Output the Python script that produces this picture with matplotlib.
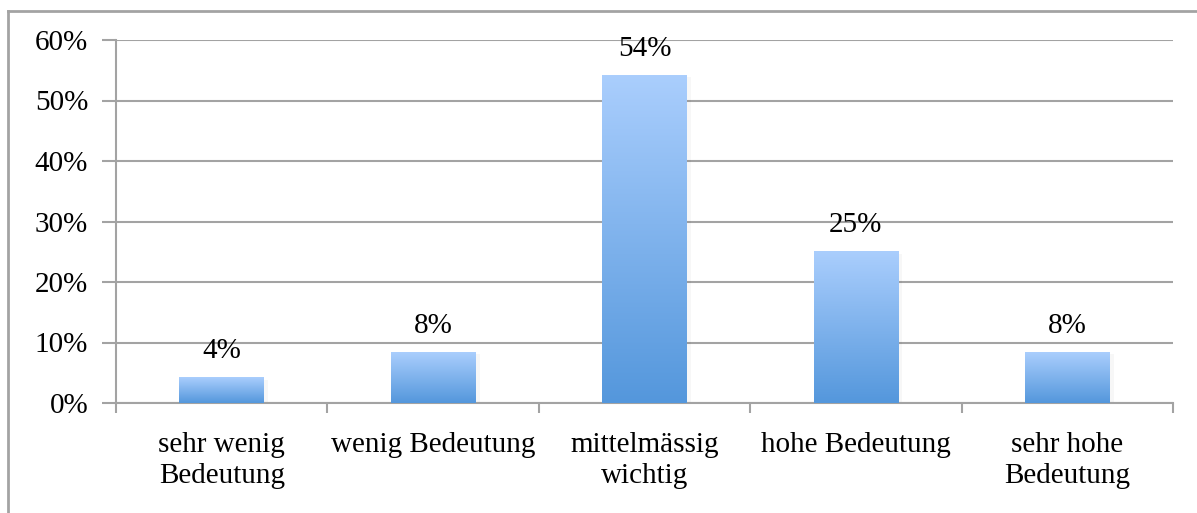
import matplotlib.pyplot as plt
import numpy as np
from matplotlib.colors import LinearSegmentedColormap
from matplotlib.lines import Line2D

# survey answers (share of respondents, %)
categories = ["sehr wenig\nBedeutung", "wenig Bedeutung", "mittelmässig\nwichtig",
              "hohe Bedeutung", "sehr hohe\nBedeutung"]
shares = [4.17, 8.33, 54.17, 25.0, 8.33]
y_ticks = [0, 10, 20, 30, 40, 50, 60]

plt.rcParams["font.family"] = ["Liberation Serif", "DejaVu Serif"]
plt.rcParams["font.size"] = 21

fig = plt.figure(figsize=(11.97, 5.13), dpi=100)
ax = fig.add_axes([116 / 1197, 1 - 403 / 513, (1173 - 116) / 1197, (403 - 40) / 513])

grid_color = "#a3a3a3"
x = np.arange(len(categories))
bars = ax.bar(x, shares, width=0.4, color="none", edgecolor="none", zorder=3)

# vertical gradient fill, light on top, darker at the base
grad = LinearSegmentedColormap.from_list("bar", ["#5497dc", "#aacefd"])
ramp = np.linspace(0, 1, 256).reshape(-1, 1)
for bar in bars:
    x0, w, h = bar.get_x(), bar.get_width(), bar.get_height()
    # soft shadow on the right
    ax.fill_between([x0 + w, x0 + w + 0.02], 0, h - 0.3, color="#000000",
                    alpha=0.03, linewidth=0, zorder=2)
    ax.imshow(ramp, cmap=grad, origin="lower", aspect="auto",
              extent=[x0, x0 + w, 0, h], zorder=3)
    ax.text(bar.get_x() + w / 2, h + 2.2, f"{round(h)}%", ha="center", va="bottom")

ax.set_xlim(-0.5, len(categories) - 0.5)
ax.set_ylim(0, 60)
ax.set_yticks(y_ticks)
ax.set_yticklabels([f"{t}%" for t in y_ticks])
ax.yaxis.grid(True, color=grid_color, linewidth=1.5, zorder=0)
ax.set_axisbelow(True)

ax.set_xticks(x)
ax.set_xticklabels(categories, linespacing=1.25)
ax.set_xticks(np.arange(-0.5, len(categories)), minor=True)
ax.tick_params(axis="x", which="major", length=0, pad=21)
ax.tick_params(axis="x", which="minor", length=7, width=1.5, color=grid_color, direction="out")
ax.tick_params(axis="y", length=10, width=1.5, color=grid_color, pad=10)

for side in ["top", "right"]:
    ax.spines[side].set_visible(False)
for side in ["left", "bottom"]:
    ax.spines[side].set_color(grid_color)
    ax.spines[side].set_linewidth(1.5)
ax.spines["left"].set_bounds(-0.0, 60)

# outer chart frame
fx, fy = 7.5 / 1197, 1 - 10.5 / 513
fig.add_artist(Line2D([fx, fx], [0, fy], color=grid_color, linewidth=2, transform=fig.transFigure))
fig.add_artist(Line2D([fx, 1], [fy, fy], color=grid_color, linewidth=2, transform=fig.transFigure))

fig.savefig("out.png", dpi=100)
